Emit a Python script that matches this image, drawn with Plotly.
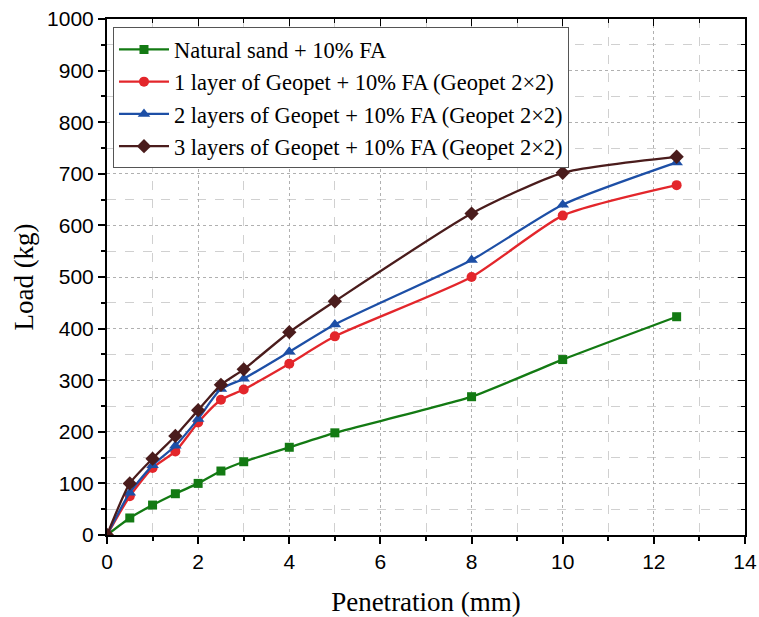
import plotly.graph_objects as go

penetration = [0, 0.5, 1, 1.5, 2, 2.5, 3, 4, 5, 8, 10, 12.5]
natural_sand = [0, 33, 58, 80, 100, 124, 142, 170, 198, 268, 340, 423]
one_layer = [0, 75, 130, 162, 218, 262, 282, 332, 385, 500, 619, 678]
two_layers = [0, 82, 135, 173, 225, 283, 303, 355, 408, 533, 640, 722]
three_layers = [0, 100, 148, 192, 242, 291, 321, 393, 453, 623, 702, 733]

names = [
    "Natural sand + 10% FA",
    "1 layer of Geopet + 10% FA (Geopet 2×2)",
    "2 layers of Geopet + 10% FA (Geopet 2×2)",
    "3 layers of Geopet + 10% FA (Geopet 2×2)",
]
series = [natural_sand, one_layer, two_layers, three_layers]
colors = ["#137a13", "#e3262b", "#1d4fa6", "#4a1c1c"]
symbols = ["square", "circle", "triangle-up", "diamond"]
sizes = [9, 10, 11, 11]

fig = go.Figure()
for nm, ys, c, s, sz in zip(names, series, colors, symbols, sizes):
    fig.add_trace(go.Scatter(
        x=penetration, y=ys, name=nm, mode="lines+markers",
        line=dict(color=c, width=2.3, shape="spline", smoothing=0.6),
        marker=dict(symbol=s, size=sz, color=c),
    ))

# invisible trace for mirrored axes
fig.add_trace(go.Scatter(x=[0], y=[0], xaxis="x2", yaxis="y2", showlegend=False,
                         mode="markers", marker=dict(opacity=0), hoverinfo="skip"))

tickfont = dict(family="Liberation Sans, Arial", size=21, color="black")
titlefont = dict(family="Liberation Serif, Times New Roman", size=27, color="black")

fig.update_layout(
    width=759, height=617,
    margin=dict(l=107, r=14, t=19, b=82),
    plot_bgcolor="white", paper_bgcolor="white",
    showlegend=True,
    legend=dict(x=0.0094, y=0.984, xanchor="left", yanchor="top",
                font=dict(family="Liberation Serif, Times New Roman", size=22.5, color="black"),
                bordercolor="#555", borderwidth=1, bgcolor="white",
                tracegroupgap=0, itemwidth=50),
    xaxis=dict(range=[0, 14], dtick=2, tickfont=tickfont, automargin=False,
               title=dict(text="Penetration (mm)", font=titlefont, standoff=20),
               showline=True, linecolor="black", linewidth=2,
               ticks="outside", ticklen=7, tickwidth=1.5, tickcolor="black",
               minor=dict(dtick=1, ticks="outside", ticklen=4, tickcolor="black",
                          showgrid=True, gridcolor="#d0d0d0", griddash="dash", gridwidth=1),
               showgrid=True, gridcolor="#b0b0b0", griddash="dot", gridwidth=1,
               zeroline=False),
    yaxis=dict(range=[0, 1000], dtick=100, tickfont=tickfont, automargin=False,
               title=dict(text="Load (kg)", font=titlefont, standoff=6),
               showline=True, linecolor="black", linewidth=2,
               ticks="outside", ticklen=7, tickwidth=1.5, tickcolor="black",
               minor=dict(dtick=50, ticks="outside", ticklen=4, tickcolor="black",
                          showgrid=True, gridcolor="#d0d0d0", griddash="dash", gridwidth=1),
               showgrid=True, gridcolor="#b0b0b0", griddash="dot", gridwidth=1,
               zeroline=False),
    xaxis2=dict(range=[0, 14], dtick=2, overlaying="x", side="top", anchor="y2",
                showline=True, linecolor="black", linewidth=2, showticklabels=False,
                ticks="inside", ticklen=7, tickcolor="black", automargin=False,
                minor=dict(dtick=1, ticks="inside", ticklen=4, tickcolor="black"),
                showgrid=False, zeroline=False),
    yaxis2=dict(range=[0, 1000], dtick=100, overlaying="y", side="right", anchor="x2",
                showline=True, linecolor="black", linewidth=2, showticklabels=False,
                ticks="inside", ticklen=7, tickcolor="black", automargin=False,
                minor=dict(dtick=50, ticks="inside", ticklen=4, tickcolor="black"),
                showgrid=False, zeroline=False),
)

fig.write_html("out.html",
               config={"displayModeBar": False},
               post_script="document.body.style.margin='0';document.body.style.overflow='hidden';")
